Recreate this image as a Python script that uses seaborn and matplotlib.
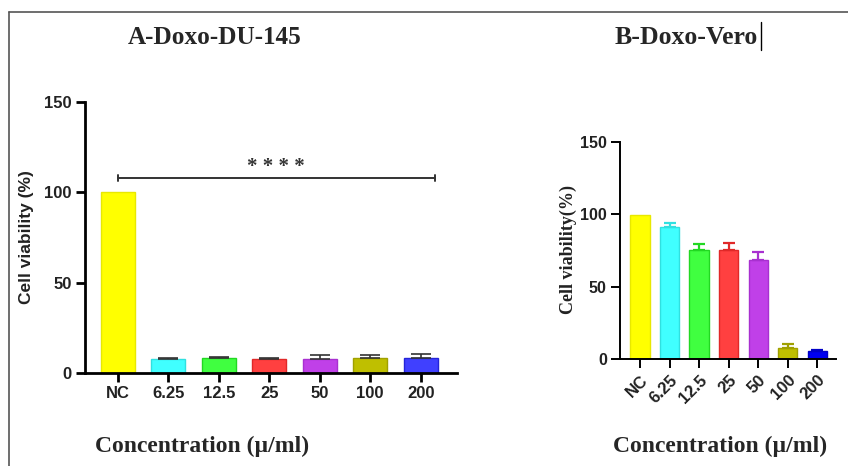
import matplotlib
matplotlib.use("Agg")
import matplotlib.pyplot as plt
from matplotlib.lines import Line2D
import seaborn as sns
import pandas as pd

categories = ["NC", "6.25", "12.5", "25", "50", "100", "200"]
du145_values = [100, 7.7, 8.5, 7.7, 7.7, 8.5, 8.5]
du145_errors = [0, 0.8, 0.5, 0.6, 2.0, 1.6, 2.2]
vero_values = [99.5, 91.2, 75.5, 75.5, 68.6, 7.6, 5.8]
vero_errors = [0, 2.6, 3.9, 4.4, 5.4, 2.5, 0.6]
yticks = [0, 50, 100, 150]

colors_a = ["#FFFF00", "#40FFFF", "#40FF40", "#FF4040", "#C040E8", "#BFBF00", "#4040FF"]
edges_a = ["#E8E800", "#30E0E0", "#22D822", "#E02828", "#A830D0", "#A0A000", "#2424D8"]
colors_b = ["#FFFF00", "#40FFFF", "#40FF40", "#FF4040", "#C040E8", "#BFBF00", "#0000F0"]
edges_b = ["#E8E800", "#30E0E0", "#22D822", "#E02828", "#A830D0", "#A0A000", "#0000C8"]

sns.set_style("white")
plt.rcParams["font.family"] = ["Liberation Sans", "DejaVu Sans"]

fig = plt.figure(figsize=(8.48, 4.66), dpi=100)
W, H = 848, 466

def px_axes(l, r, t, b):
    return fig.add_axes([l / W, 1 - b / H, (r - l) / W, (b - t) / H])

ax_a = px_axes(85, 457, 102, 373)
ax_b = px_axes(620, 836, 142, 359)

def draw(ax, values, errors, colors, edges, width, capsize, spine_lw, tick_fs, err_colors, elw):
    df = pd.DataFrame({"conc": categories, "val": values})
    sns.barplot(data=df, x="conc", y="val", hue="conc", palette=colors,
                legend=False, ax=ax, width=width, saturation=1, errorbar=None)
    for patch, ec in zip(ax.patches, edges):
        patch.set_edgecolor(ec)
        patch.set_linewidth(1.0)
    for i, (v, e) in enumerate(zip(values, errors)):
        if e > 0:
            ax.errorbar(i, v, yerr=[[0], [e]], fmt="none", ecolor=err_colors[i],
                        elinewidth=elw, capsize=capsize, capthick=elw, zorder=1)
    ax.set_ylim(0, 150)
    ax.set_yticks(yticks)
    ax.set_xlabel("")
    ax.set_ylabel("")
    for s in ["top", "right"]:
        ax.spines[s].set_visible(False)
    for s in ["left", "bottom"]:
        ax.spines[s].set_linewidth(spine_lw)
        ax.spines[s].set_color("black")
    ax.tick_params(axis="both", direction="out", length=6.5, width=spine_lw,
                   color="black", pad=3, labelsize=tick_fs, left=True, bottom=True)
    for lab in ax.get_xticklabels() + ax.get_yticklabels():
        lab.set_fontweight("bold")
        lab.set_color("#222222")

draw(ax_a, du145_values, du145_errors, colors_a, edges_a, 0.67, 7.5, 2.0, 12,
     ["#333333"] * 7, 1.2)
ax_a.set_xlim(-0.65, 6.72)

draw(ax_b, vero_values, vero_errors, colors_b, edges_b, 0.65, 4.5, 1.4, 11.5, edges_b, 1.6)
ax_b.set_xlim(-0.68, 6.64)
ax_b.set_xticks(range(len(categories)))
ax_b.set_xticklabels(categories, rotation=45, ha="right", rotation_mode="anchor",
                     fontweight="bold", color="#222222", fontsize=12)

# significance bracket in panel A
ax_a.plot([0, 6.28], [108, 108], color="#333333", lw=1.4, zorder=3)
ax_a.plot([0, 0], [106.5, 109.5], color="#333333", lw=1.4)
ax_a.plot([6.28, 6.28], [106.5, 109.5], color="#333333", lw=1.4)
ax_a.text(3.14, 114, "* * * *", ha="center", va="center", fontsize=15,
          family="Liberation Serif", fontweight="bold", color="#333333")

serif = "Liberation Serif"
fig.text(215 / W, 1 - 37 / H, "A-Doxo-DU-145", ha="center", va="center",
         family=serif, fontweight="bold", fontsize=18.2)
fig.text(686.5 / W, 1 - 37 / H, "B-Doxo-Vero", ha="center", va="center",
         family=serif, fontweight="bold", fontsize=18.5)
fig.text(202.5 / W, 1 - 446 / H, "Concentration (\u00b5/ml)", ha="center", va="center",
         family=serif, fontweight="bold", fontsize=17)
fig.text(720 / W, 1 - 446 / H, "Concentration (\u00b5/ml)", ha="center", va="center",
         family=serif, fontweight="bold", fontsize=17)
fig.text(27 / W, 1 - 237 / H, "Cell viability (%)", ha="center", va="center",
         rotation=90, fontweight="bold", fontsize=12.5, color="#222222")
fig.text(568 / W, 1 - 249 / H, "Cell viability(%)", ha="center", va="center",
         rotation=90, family=serif, fontweight="bold", fontsize=13, color="#222222")

# frame lines and text cursor
fig.add_artist(Line2D([9 / W, 1], [1 - 12 / H, 1 - 12 / H], color="#555555", lw=1.2))
fig.add_artist(Line2D([9 / W, 9 / W], [0, 1 - 12 / H], color="#555555", lw=1.2))
fig.add_artist(Line2D([761 / W, 761 / W], [1 - 50 / H, 1 - 22 / H], color="black", lw=1.0))

fig.savefig("out.png", dpi=100)
